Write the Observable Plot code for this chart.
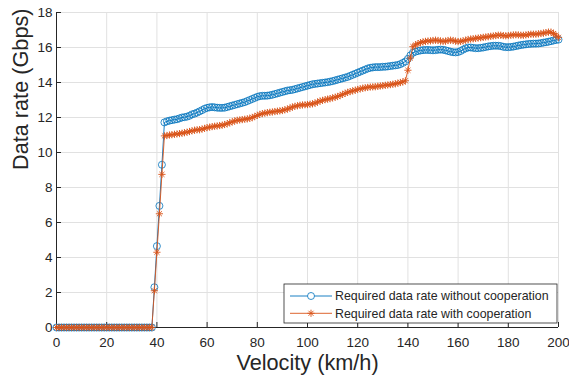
<!DOCTYPE html>
<html>
<head>
<meta charset="utf-8">
<script src="https://cdn.jsdelivr.net/npm/d3@7"></script>
<script src="https://cdn.jsdelivr.net/npm/@observablehq/plot@0.6"></script>
<style>
  html, body { margin: 0; padding: 0; background: #fff; }
  #chart svg { display: block; }
</style>
</head>
<body>
<div id="chart"></div>
<script>
const velocity = [
  0,1,2,3,4,5,6,7,8,9,
  10,11,12,13,14,15,16,17,18,19,
  20,21,22,23,24,25,26,27,28,29,
  30,31,32,33,34,35,36,37,38,39,
  40,41,42,43,44,45,46,47,48,49,
  50,51,52,53,54,55,56,57,58,59,
  60,61,62,63,64,65,66,67,68,69,
  70,71,72,73,74,75,76,77,78,79,
  80,81,82,83,84,85,86,87,88,89,
  90,91,92,93,94,95,96,97,98,99,
  100,101,102,103,104,105,106,107,108,109,
  110,111,112,113,114,115,116,117,118,119,
  120,121,122,123,124,125,126,127,128,129,
  130,131,132,133,134,135,136,137,138,139,
  140,141,142,143,144,145,146,147,148,149,
  150,151,152,153,154,155,156,157,158,159,
  160,161,162,163,164,165,166,167,168,169,
  170,171,172,173,174,175,176,177,178,179,
  180,181,182,183,184,185,186,187,188,189,
  190,191,192,193,194,195,196,197,198,199,
  200
];

const rateWithout = [
  0,0,0,0,0,0,0,0,0,0,
  0,0,0,0,0,0,0,0,0,0,
  0,0,0,0,0,0,0,0,0,0,
  0,0,0,0,0,0,0,0,0,2.3,
  4.65,6.95,9.3,11.72,11.78,11.82,11.85,11.88,11.9,11.95,
  12.0,12.02,12.05,12.1,12.18,12.22,12.28,12.35,12.42,12.5,
  12.55,12.58,12.6,12.58,12.56,12.55,12.55,12.56,12.6,12.64,
  12.68,12.72,12.76,12.8,12.84,12.88,12.94,13.0,13.06,13.12,
  13.18,13.22,13.24,13.24,13.25,13.27,13.3,13.34,13.38,13.42,
  13.46,13.5,13.54,13.56,13.58,13.62,13.66,13.7,13.74,13.78,
  13.82,13.86,13.9,13.92,13.94,13.96,13.98,14.0,14.02,14.05,
  14.08,14.12,14.16,14.2,14.24,14.28,14.32,14.38,14.44,14.5,
  14.56,14.62,14.68,14.74,14.8,14.84,14.86,14.88,14.88,14.88,
  14.9,14.9,14.92,14.94,14.96,14.98,15.0,15.05,15.12,15.2,
  15.35,15.55,15.7,15.76,15.8,15.83,15.85,15.86,15.86,15.85,
  15.84,15.85,15.87,15.88,15.87,15.84,15.8,15.76,15.73,15.72,
  15.74,15.8,15.88,15.95,16.0,16.0,15.98,15.96,15.96,15.98,
  16.0,16.03,16.06,16.08,16.1,16.1,16.1,16.08,16.04,16.02,
  16.02,16.03,16.05,16.08,16.11,16.14,16.16,16.18,16.2,16.21,
  16.22,16.22,16.23,16.25,16.28,16.3,16.33,16.36,16.4,16.43,
  16.45
];

const rateWith = [
  0,0,0,0,0,0,0,0,0,0,
  0,0,0,0,0,0,0,0,0,0,
  0,0,0,0,0,0,0,0,0,0,
  0,0,0,0,0,0,0,0,0,2.1,
  4.3,6.5,8.75,10.95,10.97,11.0,11.02,11.04,11.06,11.08,
  11.1,11.13,11.16,11.2,11.24,11.27,11.3,11.3,11.34,11.38,
  11.42,11.45,11.48,11.5,11.52,11.54,11.56,11.6,11.64,11.7,
  11.75,11.8,11.84,11.86,11.88,11.9,11.92,11.95,12.0,12.06,
  12.12,12.18,12.22,12.25,12.28,12.3,12.32,12.34,12.36,12.38,
  12.4,12.44,12.48,12.54,12.6,12.64,12.67,12.7,12.72,12.73,
  12.74,12.76,12.78,12.82,12.88,12.94,12.98,13.02,13.05,13.08,
  13.12,13.16,13.2,13.26,13.32,13.38,13.44,13.48,13.52,13.56,
  13.6,13.64,13.67,13.7,13.72,13.74,13.75,13.76,13.78,13.8,
  13.82,13.84,13.86,13.88,13.9,13.93,13.96,14.0,14.03,14.1,
  14.7,15.4,16.05,16.15,16.22,16.28,16.32,16.35,16.37,16.38,
  16.4,16.42,16.4,16.37,16.35,16.36,16.4,16.42,16.4,16.36,
  16.34,16.35,16.38,16.42,16.46,16.48,16.5,16.52,16.54,16.56,
  16.58,16.6,16.62,16.64,16.66,16.68,16.7,16.7,16.68,16.67,
  16.68,16.7,16.72,16.73,16.72,16.7,16.7,16.72,16.74,16.76,
  16.76,16.76,16.78,16.8,16.82,16.85,16.88,16.88,16.8,16.7,
  16.58
];

const seriesNames = ["Required data rate without cooperation", "Required data rate with cooperation"];
const seriesColors = ["#0072BD", "#D95319"];
const xTicks = [0, 20, 40, 60, 80, 100, 120, 140, 160, 180, 200];
const yTicks = [0, 2, 4, 6, 8, 10, 12, 14, 16, 18];
const xLabel = "Velocity (km/h)";
const yLabel = "Data rate (Gbps)";

const W = 569, H = 382;
const mL = 56, mR = 11, mT = 12, mB = 55;
const frameW = W - mL - mR, frameH = H - mT - mB;
const ink = "#262626";
const font = "'Liberation Sans', Arial, Helvetica, sans-serif";

const blueData = velocity.map((v, i) => ({v, r: rateWithout[i]}));
const orangeData = velocity.map((v, i) => ({v, r: rateWith[i]}));

const asterisk8 = {
  draw(ctx, size) {
    const r = Math.sqrt(size / Math.PI);
    const d = r * Math.SQRT1_2;
    ctx.moveTo(-r, 0); ctx.lineTo(r, 0);
    ctx.moveTo(0, -r); ctx.lineTo(0, r);
    ctx.moveTo(-d, -d); ctx.lineTo(d, d);
    ctx.moveTo(-d, d); ctx.lineTo(d, -d);
  }
};

const chart = Plot.plot({
  width: W,
  height: H,
  marginLeft: mL,
  marginRight: mR,
  marginTop: mT,
  marginBottom: mB,
  style: {fontFamily: font, color: ink, background: "#fff", overflow: "visible"},
  x: {domain: [0, 200]},
  y: {domain: [0, 18]},
  marks: [
    Plot.gridX(xTicks, {stroke: "#e1e1e1", strokeOpacity: 1, strokeWidth: 1}),
    Plot.gridY(yTicks, {stroke: "#e1e1e1", strokeOpacity: 1, strokeWidth: 1}),
    Plot.ruleY([0], {stroke: ink, strokeWidth: 1}),
    Plot.ruleX([0], {stroke: ink, strokeWidth: 1}),
    Plot.ruleX(xTicks, {stroke: ink, strokeWidth: 1, insetTop: frameH - 5}),
    Plot.ruleY(yTicks, {stroke: ink, strokeWidth: 1, insetRight: frameW - 5}),
    Plot.axisX({ticks: xTicks, tickSize: 0, tickPadding: 10, fontSize: 13.5, label: null, color: ink}),
    Plot.axisY({ticks: yTicks, tickSize: 0, tickPadding: 4, fontSize: 13.5, label: null, color: ink}),
    Plot.text([xLabel], {frameAnchor: "bottom", dy: 42, fontSize: 21.7, fill: ink}),
    Plot.text([yLabel], {frameAnchor: "left", dx: -35, rotate: -90, fontSize: 21.7, fill: ink}),
    Plot.line(blueData, {x: "v", y: "r", stroke: seriesColors[0], strokeWidth: 0.9}),
    Plot.dot(blueData, {x: "v", y: "r", r: 3.5, fill: "none", stroke: seriesColors[0], strokeWidth: 0.8}),
    Plot.line(orangeData, {x: "v", y: "r", stroke: seriesColors[1], strokeWidth: 0.9}),
    Plot.dot(orangeData, {x: "v", y: "r", r: 3.6, symbol: asterisk8, fill: "none", stroke: seriesColors[1], strokeWidth: 0.9})
  ]
});

// Legend (southeast, inside the axes, MATLAB style)
const svg = d3.select(chart);
const lg = svg.append("g")
  .attr("font-family", font)
  .attr("font-size", 12.4)
  .attr("text-anchor", "start")
  .attr("fill", ink);
const lx = 284, ly = 284, lw = 273, lh = 39;
lg.append("rect").attr("x", lx).attr("y", ly).attr("width", lw).attr("height", lh)
  .attr("fill", "#fff").attr("stroke", ink).attr("stroke-width", 0.8);
seriesNames.forEach((name, i) => {
  const cy = ly + 12 + i * 17.3;
  lg.append("line").attr("x1", lx + 6).attr("x2", lx + 48).attr("y1", cy).attr("y2", cy)
    .attr("stroke", seriesColors[i]).attr("stroke-width", 0.9);
  if (i === 0) {
    lg.append("circle").attr("cx", lx + 27).attr("cy", cy).attr("r", 3.5)
      .attr("fill", "#fff").attr("stroke", seriesColors[i]).attr("stroke-width", 0.8);
  } else {
    lg.append("path").attr("transform", `translate(${lx + 27},${cy})`)
      .attr("d", d3.symbol(asterisk8, 3.6 * 3.6 * Math.PI)())
      .attr("fill", "none").attr("stroke", seriesColors[i]).attr("stroke-width", 0.9);
  }
  lg.append("text").attr("x", lx + 51).attr("y", cy).attr("dy", "0.35em")
    .attr("text-anchor", "start").attr("fill", ink).text(name);
});

document.getElementById("chart").appendChild(chart);
</script>
</body>
</html>
